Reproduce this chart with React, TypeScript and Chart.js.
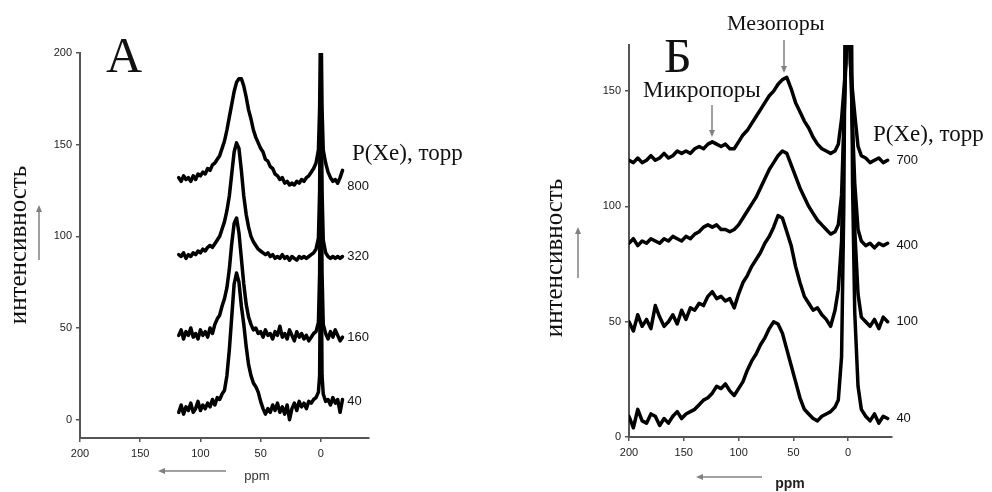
import React, { useEffect, useRef } from "react";
import { Chart, registerables } from "chart.js";

Chart.register(...registerables);

// ---------- Panel A (ppm grid and spectra) ----------
const ppmA = [
  118, 116, 114, 112, 110, 108, 106, 104, 102, 100, 98, 96, 94, 92, 90, 88, 86, 84, 82, 80,
  78, 76, 74, 72, 70, 68, 66, 64, 62, 60, 58, 56, 54, 52, 50, 48, 46, 44, 42, 40,
  38, 36, 34, 32, 30, 28, 26, 24, 22, 20, 18, 16, 14, 12, 10, 8, 6,
  4, 2,
  1, 0.5, 0, -0.5, -1,
  -2, -4, -6, -8, -10, -12, -14, -16, -18,
];
const a800 = [
  132, 130, 133, 131, 132, 130, 133, 131, 134, 133, 135, 134, 137, 136, 139, 140, 142, 144, 148, 152,
  158, 165, 172, 179, 184, 186, 186, 182, 176, 169, 164, 158, 154, 151, 148, 146, 142, 141, 138, 137,
  134, 133, 131, 132, 129, 130, 128, 129, 128, 130, 129, 131, 130, 132, 133, 135, 137,
  140, 147,
  170, 200, 200, 200, 170,
  147, 140, 135, 132, 130, 131, 129, 132, 136,
];
const a320 = [
  90, 89, 91, 88, 90, 89, 91, 90, 92, 91, 93, 92, 94, 95, 94, 96, 98, 100, 104, 108,
  114, 122, 134, 146, 151, 148, 136, 122, 112, 105, 100, 97, 95, 93, 92, 91, 90, 91, 89, 90,
  88, 89, 88, 90, 88, 89, 87, 89, 88, 87, 89, 88, 89, 88, 89, 90, 91,
  93, 99,
  125, 170, 180, 170, 125,
  98, 91, 89, 88, 89, 88, 89, 88, 89,
];
const a160 = [
  46, 49, 44, 48, 46, 50, 45, 47, 44, 49, 46, 48, 45, 50, 47, 52, 55, 57, 62, 66,
  72, 82, 96, 107, 110, 102, 88, 74, 63, 56, 52, 49, 50, 47, 48, 45, 49, 46, 47, 44,
  48, 46, 51, 45, 47, 44, 49, 46, 43, 48, 45, 47, 44, 46, 43, 45, 47,
  48, 53,
  80, 130, 145, 130, 80,
  52, 47, 44, 48, 45, 49, 46, 43, 45,
];
const a40 = [
  4, 8, 3, 7, 5, 9, 4, 6, 10, 5, 8, 6, 9, 7, 11, 8, 12, 11, 14, 16,
  24, 38, 56, 74, 80, 75, 62, 52, 40, 30, 24, 20, 18, 15, 10, 6, 3, 6, 4, 8,
  5, 9, 4, 7, 3, 8, 0, 6, 9, 5, 10, 7, 9, 6, 10, 9, 11,
  12, 15,
  24, 70, 100, 70, 24,
  14, 10, 11, 8, 12, 9, 11, 4, 11,
];
const seriesA = [a800, a320, a160, a40];
const seriesLabelsA = ["800", "320", "160", "40"];
const labelLevelsA = [127, 89, 45, 10];
const yTicksA = [0, 50, 100, 150, 200];

// ---------- Panel Б ----------
const ppmB = [
  200, 196, 192, 188, 184, 180, 176, 172, 168, 164, 160, 156, 152, 148, 144, 140, 136, 132, 128, 124,
  120, 116, 112, 108, 104, 100, 96, 92, 88, 84, 80, 76, 72, 68, 64, 60, 56, 52, 48, 44,
  40, 36, 32, 28, 24, 20, 16, 12,
  9, 6, 4, 2, 1, 0, -1, -2, -4, -6, -9,
  -12, -16, -20, -24, -28, -32, -36,
];
const b700 = [
  120, 119, 121, 119, 120, 122, 120, 121, 123, 121, 122, 124, 123, 124, 123, 125, 126, 125, 127, 128,
  127, 126, 127, 125, 125, 128, 131, 133, 136, 139, 142, 145, 148, 150, 153, 155, 156, 151, 145, 141,
  137, 134, 130, 127, 125, 124, 123, 124,
  127, 138, 150, 162, 178, 250, 178, 162, 150, 140, 126,
  122, 121, 119, 120, 121, 119, 120,
];
const b400 = [
  84, 86, 83, 85, 84, 86, 85, 84, 86, 85, 87, 86, 85, 87, 86, 88, 89, 91, 92, 91,
  92, 90, 90, 89, 90, 92, 95, 98, 101, 104, 108, 112, 116, 119, 122, 124, 123, 118, 113, 108,
  104, 100, 97, 94, 92, 90, 88, 89,
  92, 105, 135, 165, 230, 260, 230, 165, 135, 110, 90,
  85, 83, 84, 82, 84, 83, 84,
];
const b100 = [
  50, 46, 53, 48, 51, 47, 57, 52, 48, 50, 53, 49, 55, 51, 56, 55, 58, 57, 61, 63,
  60, 61, 59, 60, 56, 62, 67, 70, 74, 77, 80, 84, 87, 91, 96, 95, 89, 83, 74, 67,
  61, 58, 55, 56, 53, 51, 48, 55,
  64, 85, 130, 180, 240, 270, 240, 180, 130, 90, 62,
  52, 50, 48, 51, 47, 52, 50,
];
const b40 = [
  9, 4, 12, 7, 6, 10, 9, 5, 8, 6, 9, 11, 8, 10, 11, 12, 14, 16, 17, 19,
  22, 21, 23, 20, 18, 21, 24, 29, 33, 36, 40, 43, 47, 50, 49, 45, 38, 31, 24, 17,
  12, 10, 8, 7, 9, 10, 11, 13,
  16, 35, 100, 230, 270, 280, 280, 260, 110, 54, 22,
  12, 9, 7, 10, 6, 9, 8,
];
const seriesB = [b700, b400, b100, b40];
const seriesLabelsB = ["700", "400", "100", "40"];
const labelLevelsB = [120, 83, 50, 8];
const yTicksB = [0, 50, 100, 150];

const xTicks = [200, 150, 100, 50, 0];

const SERIF = "'Liberation Serif', 'Times New Roman', serif";
const SANS = "'Liberation Sans', Arial, sans-serif";

function drawArrow(ctx: CanvasRenderingContext2D, x1: number, y1: number, x2: number, y2: number) {
  const ang = Math.atan2(y2 - y1, x2 - x1);
  const hl = 7;
  const hw = 3;
  ctx.strokeStyle = "#808080";
  ctx.fillStyle = "#808080";
  ctx.lineWidth = 1.5;
  ctx.beginPath();
  ctx.moveTo(x1, y1);
  ctx.lineTo(x2 - Math.cos(ang) * hl * 0.6, y2 - Math.sin(ang) * hl * 0.6);
  ctx.stroke();
  ctx.beginPath();
  ctx.moveTo(x2, y2);
  ctx.lineTo(x2 - Math.cos(ang) * hl - Math.sin(ang) * hw, y2 - Math.sin(ang) * hl + Math.cos(ang) * hw);
  ctx.lineTo(x2 - Math.cos(ang) * hl + Math.sin(ang) * hw, y2 - Math.sin(ang) * hl - Math.cos(ang) * hw);
  ctx.closePath();
  ctx.fill();
}

const notesPlugin = {
  id: "notes",
  afterDraw(chart: any, _args: any, opts: any) {
    const ctx: CanvasRenderingContext2D = chart.ctx;
    const xs = chart.scales.x;
    const ys = chart.scales.y;
    ctx.save();
    (opts.labels || []).forEach((l: any) => {
      ctx.font = `13px ${SANS}`;
      ctx.fillStyle = "#111";
      ctx.textAlign = "left";
      ctx.textBaseline = "middle";
      ctx.fillText(l.text, xs.getPixelForValue(l.ppm), ys.getPixelForValue(l.level));
    });
    (opts.texts || []).forEach((t: any) => {
      ctx.save();
      ctx.font = t.font;
      ctx.fillStyle = t.color || "#111";
      ctx.textAlign = t.align || "left";
      ctx.textBaseline = t.baseline || "alphabetic";
      ctx.translate(t.x, t.y);
      if (t.rotate) ctx.rotate(-Math.PI / 2);
      ctx.fillText(t.text, 0, 0);
      ctx.restore();
    });
    (opts.arrows || []).forEach((a: any) => drawArrow(ctx, a.x1, a.y1, a.x2, a.y2));
    ctx.restore();
  },
};

function buildConfig(
  ppm: number[],
  series: number[][],
  yMin: number,
  yMax: number,
  yTicks: number[],
  area: { left: number; right: number; top: number; bottom: number },
  notes: any
): any {
  return {
    type: "line",
    data: {
      datasets: series.map((s) => ({
        data: ppm.map((p, i) => ({ x: p, y: s[i] })),
        borderColor: "#000",
        borderWidth: 3.5,
        pointRadius: 0,
        tension: 0,
        fill: false,
        borderJoinStyle: "round",
        borderCapStyle: "round",
      })),
    },
    options: {
      animation: false,
      responsive: false,
      devicePixelRatio: 1,
      events: [],
      layout: { padding: { left: 0, top: area.top, right: 992 - area.right, bottom: 0 } },
      plugins: { legend: { display: false }, tooltip: { enabled: false }, notes },
      scales: {
        x: {
          type: "linear",
          min: -40,
          max: 200,
          reverse: true,
          afterBuildTicks: (s: any) => {
            s.ticks = xTicks.map((v) => ({ value: v }));
          },
          afterFit: (s: any) => {
            s.height = 492 - area.bottom;
          },
          grid: { display: true, drawOnChartArea: false, drawTicks: true, tickLength: 4, color: "#555", lineWidth: 1.5 },
          border: { display: true, color: "#555", width: 2 },
          ticks: { font: { family: SANS, size: 11 }, color: "#222", padding: 5, maxRotation: 0 },
        },
        y: {
          type: "linear",
          min: yMin,
          max: yMax,
          afterBuildTicks: (s: any) => {
            s.ticks = yTicks.map((v) => ({ value: v }));
          },
          afterFit: (s: any) => {
            s.width = area.left;
          },
          grid: { display: true, drawOnChartArea: false, drawTicks: true, tickLength: 4, color: "#555", lineWidth: 1.5 },
          border: { display: true, color: "#555", width: 2 },
          ticks: { font: { family: SANS, size: 11 }, color: "#222", padding: 4 },
        },
      },
    },
    plugins: [notesPlugin],
  };
}

export default function App() {
  const refA = useRef<HTMLCanvasElement>(null);
  const refB = useRef<HTMLCanvasElement>(null);

  useEffect(() => {
    const notesA = {
      labels: seriesLabelsA.map((t, i) => ({ text: t, ppm: -22, level: labelLevelsA[i] })),
      texts: [
        { text: "А", x: 106, y: 72, font: `50px ${SERIF}` },
        { text: "P(Xe), торр", x: 352, y: 160, font: `23px ${SERIF}` },
        { text: "интенсивность", x: 19, y: 245, font: `25px ${SERIF}`, rotate: true, align: "center", baseline: "middle" },
        { text: "ppm", x: 257, y: 480, font: `13px ${SANS}`, align: "center", color: "#333" },
      ],
      arrows: [
        { x1: 39, y1: 260, x2: 39, y2: 205 },
        { x1: 226, y1: 471, x2: 158, y2: 471 },
      ],
    };
    const notesB = {
      labels: seriesLabelsB.map((t, i) => ({ text: t, ppm: -44, level: labelLevelsB[i] })),
      texts: [
        { text: "Б", x: 664, y: 72, font: `48px ${SERIF}` },
        { text: "Мезопоры", x: 727, y: 30, font: `22px ${SERIF}` },
        { text: "Микропоры", x: 643, y: 97, font: `23px ${SERIF}` },
        { text: "P(Xe), торр", x: 873, y: 141, font: `23px ${SERIF}` },
        { text: "интенсивность", x: 555, y: 258, font: `25px ${SERIF}`, rotate: true, align: "center", baseline: "middle" },
        { text: "ppm", x: 790, y: 488, font: `bold 14px ${SANS}`, align: "center", color: "#222" },
      ],
      arrows: [
        { x1: 784, y1: 40, x2: 784, y2: 73 },
        { x1: 712, y1: 105, x2: 712, y2: 137 },
        { x1: 578, y1: 278, x2: 578, y2: 227 },
        { x1: 762, y1: 477, x2: 696, y2: 477 },
      ],
    };
    const chartA = new Chart(
      refA.current as HTMLCanvasElement,
      buildConfig(ppmA, seriesA, -10, 200, yTicksA, { left: 80, right: 369, top: 53, bottom: 438 }, notesA)
    );
    const chartB = new Chart(
      refB.current as HTMLCanvasElement,
      buildConfig(ppmB, seriesB, 0, 170, yTicksB, { left: 629, right: 892, top: 45, bottom: 437 }, notesB)
    );
    return () => {
      chartA.destroy();
      chartB.destroy();
    };
  }, []);

  const canvasStyle: React.CSSProperties = { position: "absolute", left: 0, top: 0, width: 992, height: 492 };
  return (
    <div style={{ position: "absolute", left: 0, top: 0, width: 992, height: 492, background: "#fff", overflow: "hidden" }}>
      <canvas ref={refA} width={992} height={492} style={canvasStyle} />
      <canvas ref={refB} width={992} height={492} style={canvasStyle} />
    </div>
  );
}
